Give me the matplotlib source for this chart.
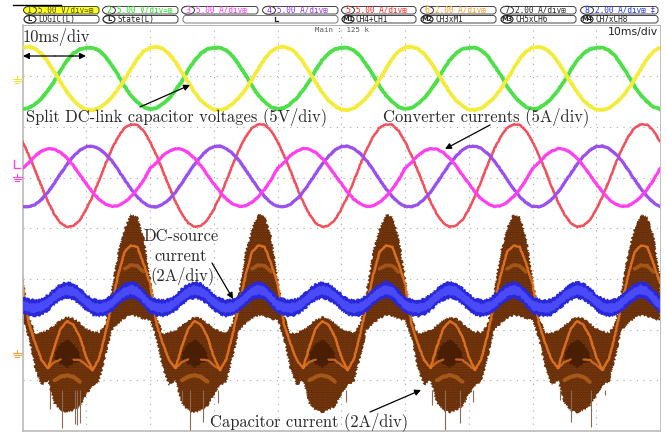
import matplotlib
matplotlib.use("Agg")
import matplotlib.pyplot as plt
from matplotlib.patches import Ellipse, FancyBboxPatch
import numpy as np

plt.rcParams['hatch.linewidth'] = 0.3

# one 20 ms period, 1 ms per sample, values in divisions
green = [2.35, 2.37, 2.45, 2.56, 2.72, 2.90, 3.12, 3.31, 3.45, 3.53,
         3.56, 3.56, 3.51, 3.39, 3.21, 3.02, 2.80, 2.62, 2.49, 2.39]
yellow = [3.56, 3.58, 3.54, 3.44, 3.28, 3.08, 2.88, 2.68, 2.52, 2.41,
          2.34, 2.33, 2.37, 2.46, 2.58, 2.74, 2.93, 3.14, 3.34, 3.49]
red = [1.71, 1.44, 1.14, 0.82, 0.52, 0.275, 0.10, 0.025, 0.05, 0.16,
       0.37, 0.63, 0.94, 1.26, 1.56, 1.80, 1.98, 2.05, 2.04, 1.92]
magenta = [1.18, 1.29, 1.43, 1.52, 1.57, 1.56, 1.49, 1.38, 1.23, 1.05,
           0.88, 0.71, 0.57, 0.48, 0.43, 0.44, 0.51, 0.62, 0.77, 0.95]
purple = [0.43, 0.42, 0.47, 0.57, 0.71, 0.89, 1.08, 1.26, 1.42, 1.54,
          1.61, 1.62, 1.57, 1.47, 1.33, 1.15, 0.96, 0.78, 0.62, 0.50]
dc_source = [-1.52, -1.56, -1.58, -1.55, -1.47, -1.35, -1.26, -1.22, -1.25, -1.34,
             -1.46, -1.55, -1.58, -1.56, -1.48, -1.36, -1.26, -1.21, -1.25, -1.38]
cap_top = [-0.96, -1.72, -2.08, -2.06, -2.01, -1.91, -1.81, -1.75, -1.78, -1.87,
           -1.98, -2.04, -2.06, -1.88, -1.22, -0.47, -0.01, 0.28, 0.22, -0.17]
cap_bottom = [-1.81, -2.18, -2.77, -3.10, -3.00, -3.46, -3.59, -3.64, -3.59, -3.52,
              -3.29, -3.10, -3.03, -2.54, -2.01, -1.88, -1.78, -1.72, -1.74, -1.80]
nan = float('nan')
band_main = [-1.09, -1.88, -2.27, -2.60, -2.76, -2.34, -1.98, -1.83, -1.91, -2.14,
             -2.54, -2.80, -2.57, -2.08, -1.49, -0.93, -0.47, -0.34, -0.37, -0.70]
band_cross = [nan, nan, nan, nan, -2.76, -2.64, -2.59, nan, -2.59, -2.60,
              -2.70, -2.80, nan, nan, nan, nan, nan, nan, nan, nan]
band_low = [nan, nan, nan, nan, nan, -3.00, -2.93, -2.90, -2.93, -3.03,
            nan, nan, nan, nan, nan, nan, nan, nan, nan, nan]
band_arch = [nan, nan, nan, nan, nan, nan, nan, nan, nan, nan,
             nan, nan, nan, nan, nan, nan, -0.80, -0.73, -0.74, -0.86]
core_top = [nan, nan, nan, nan, nan, -2.45, -2.28, -2.20, -2.28, -2.45,
            nan, nan, nan, nan, nan, nan, nan, nan, nan, nan]
core_bottom = [nan, nan, nan, nan, nan, -2.62, -2.68, -2.76, -2.68, -2.62,
               nan, nan, nan, nan, nan, nan, nan, nan, nan, nan]

# stray spikes under the capacitor current
spike_t = [3.5, 4.3, 6.15, 8.2, 8.6, 9.0, 25.0, 26.3, 28.3, 30.7, 50.8,
           64.2, 66.2, 68.6, 70.7, 84.3, 86.1, 89.2, 91.3]
spike_end = [-3.2, -3.56, -3.95, -3.87, -3.89, -3.85, -3.42, -4.0, -3.82, -3.45, -3.42,
             -3.49, -3.98, -3.85, -3.42, -3.39, -3.82, -3.92, -3.29]

top_row = ["5.00 V/div≃⊞", "5.00 V/div≃⊞", "5.00 A/div⊞", "5.00 A/div⊞",
           "5.00 A/div⊞", "2.00 A/div⊞", "2.00 A/div⊞", "2.00 A/div⊞ ‡"]
top_tags = ["1", "2", "3", "4", "5", "6", "7", "8"]
top_colors = ["#4a4a00", "#22e022", "#ff30ff", "#8a30ff", "#ff2020", "#ff9a20", "#222222", "#2030ff"]
bottom_row = ["LOGIC(L)", "State(L)", "", "", "CH4+CH1", "CH3xM1", "CH5xCH6", "CH7xCH8"]
bottom_tags = ["L", "L", "", "", "M1", "M2", "M3", "M4"]


def one_run(values):
    # five periods on the 100 ms screen
    return np.append(np.tile(values, 5), values[0])


t = np.arange(101)

fig = plt.figure(figsize=(6.66, 4.34), dpi=100)
ax = fig.add_axes([22.5 / 666, 3 / 434, 637.5 / 666, 405.6 / 434])
ax.set_xlim(0, 100)
ax.set_ylim(-4, 4)
ax.set_xticks(np.arange(10, 100, 10))
ax.set_yticks(np.arange(-3, 4))
ax.tick_params(length=0, labelbottom=False, labelleft=False)
ax.grid(True, color="#a8a8a8", lw=0.8, linestyle=(0, (1, 5)))
ax.set_axisbelow(True)
for side in ax.spines:
    ax.spines[side].set_color("#b4b4b4")
    ax.spines[side].set_linewidth(1.1)
ax.spines['right'].set_linewidth(0.6)
ax.spines['top'].set_linewidth(0.7)

# capacitor current
ax.vlines(spike_t, -3.2, spike_end, color="#8c6a58", lw=0.8, zorder=1.5)
fill = ax.fill_between(t, one_run(cap_top), one_run(cap_bottom), facecolor="#652e08",
                       edgecolor="#93481a", hatch="..........", lw=0)
fill.set_sketch_params(1.0, 2.5, 3)
core = ax.fill_between(t, one_run(core_top), one_run(core_bottom), facecolor="#4a1e02", lw=0)
core.set_sketch_params(1.0, 4, 3)
for band, width, tone, fade in [(band_main, 1.7, "#ee7a22", 0.85), (band_cross, 1.6, "#e0762a", 0.8),
                                (band_low, 2.8, "#b0601c", 0.85), (band_arch, 2.6, "#b05c18", 0.85)]:
    line, = ax.plot(t, one_run(band), color=tone, lw=width, alpha=fade, solid_capstyle="round")
    line.set_sketch_params(0.3, 3, 3)

# DC-source current
dc = one_run(dc_source)
outer = ax.fill_between(t, dc + 0.17, dc - 0.17, facecolor="#2828d8", lw=0, zorder=3)
outer.set_sketch_params(0.9, 2.5, 3)
inner = ax.fill_between(t, dc + 0.09, dc - 0.09, facecolor="#4a4af8", lw=0, zorder=3)
inner.set_sketch_params(0.7, 2.5, 3)

# currents and capacitor voltages
for values, tone, width in [(red, "#f2505c", 1.8), (purple, "#9a50ee", 2.3), (magenta, "#ff40f0", 2.3),
                            (green, "#4fdf4a", 2.7), (yellow, "#f4ec3c", 2.7)]:
    line, = ax.plot(t, one_run(values), color=tone, lw=width, zorder=4)
    line.set_sketch_params(0.3, 3, 3)

# header, annotations and markers, placed in screen pixels
over = fig.add_axes([0, 0, 1, 1], zorder=10)
over.set_xlim(0, 666)
over.set_ylim(434, 0)
over.axis("off")
over.patch.set_alpha(0)

box_left = [23, 102, 181, 262, 341, 420, 500, 580]
box_right = [101, 180, 260, 340, 418, 498, 578, 660]
over.plot([13, 61], [4.5, 4.5], color="black", lw=1)

for i in range(8):
    back = "#ffff20" if i == 0 else "white"
    over.add_patch(FancyBboxPatch((box_left[i] + 2, 6.5), box_right[i] - box_left[i] - 4, 7.5,
                                  boxstyle="round,pad=0,rounding_size=3", fc=back, ec="#444444", lw=0.7))
    over.add_patch(Ellipse((box_left[i] + 7, 10.2), 13, 8, fc=back, ec="#333333", lw=0.7))
    over.text(box_left[i] + 7, 10.4, top_tags[i], color=top_colors[i], family="DejaVu Sans Mono",
              fontsize=6, ha="center", va="center")
    over.text(box_left[i] + 15, 10.4, top_row[i], color=top_colors[i], family="DejaVu Sans Mono",
              fontsize=5.5, ha="left", va="center")
    if bottom_tags[i]:
        over.add_patch(FancyBboxPatch((box_left[i] + 2, 15.5), box_right[i] - box_left[i] - 4, 7.5,
                                      boxstyle="round,pad=0,rounding_size=3", fc="white", ec="#444444", lw=0.7))
        over.add_patch(Ellipse((box_left[i] + 7, 19.3), 12, 7.5, fc="white", ec="#222222", lw=0.8))
        over.text(box_left[i] + 7, 19.4, bottom_tags[i], color="#222222", fontsize=4.8, weight="bold",
                  ha="center", va="center")
        over.text(box_left[i] + 15, 19.4, bottom_row[i], color="#222222", family="DejaVu Sans Mono",
                  fontsize=5.5, ha="left", va="center")
over.add_patch(FancyBboxPatch((183, 15.5), 155, 7.5, boxstyle="round,pad=0,rounding_size=3",
                              fc="white", ec="#666666", lw=0.6))
over.plot([275, 275, 278], [17, 21, 21], color="#222222", lw=0.9)

over.text(315, 30.5, "Main : 125 k", color="#555555", fontsize=5.3, family="DejaVu Sans Mono",
          ha="left", va="center")
over.text(658, 32, "10ms/div", color="#222222", fontsize=7.8, family="DejaVu Sans",
          ha="right", va="center")

labels = [("10ms/div", 23, 37, "left"),
          ("Split DC-link capacitor voltages (5V/div)", 26, 117, "left"),
          ("Converter currents (5A/div)", 383, 117, "left"),
          ("DC-source", 181, 236, "center"),
          ("current", 181, 256, "center"),
          ("(2A/div)", 182, 276, "center"),
          ("Capacitor current (2A/div)", 210, 422, "left")]
for text, x, y, align in labels:
    over.text(x, y, text, family="cmr10", fontsize=11.9, color="#2a2a2a", ha=align, va="center")

arrows = [((140, 107), (190, 85)), ((490, 125), (445, 149)),
          ((212, 263), (233, 299)), ((370, 412), (421, 390)),
          ((55, 56), (23, 56)), ((55, 56), (86, 56))]
for start, end in arrows:
    over.annotate("", xy=end, xytext=start,
                  arrowprops=dict(arrowstyle="-|>", color="black", lw=0.9, mutation_scale=9,
                                  shrinkA=0, shrinkB=0))

# ground and level markers on the left edge
for y, tone in [(81, "#f0e040"), (179, "#ff40e0"), (355, "#f0a040")]:
    over.plot([17, 17], [y - 5, y - 2], color=tone, lw=0.8)
    over.plot([12.5, 21.5], [y - 2, y - 2], color=tone, lw=0.8)
    over.plot([13.5, 20.5], [y, y], color=tone, lw=0.8)
    over.plot([15, 19], [y + 2, y + 2], color=tone, lw=0.8)
over.plot([14, 14, 20], [160, 168, 168], color="#ff40e0", lw=1)

plt.savefig("out.png", dpi=100)
